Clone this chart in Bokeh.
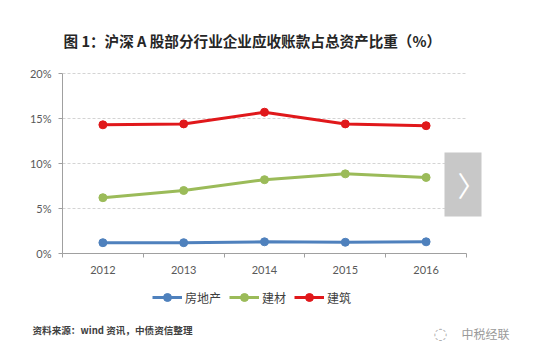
from bokeh.plotting import figure
from bokeh.layouts import column
from bokeh.models import (Range1d, FixedTicker, PrintfTickFormatter, Label, Legend, LegendItem,
                          BoxAnnotation)
from bokeh.embed import file_html
from bokeh.resources import INLINE

years = ["2012", "2013", "2014", "2015", "2016"]
real_estate = [1.2, 1.2, 1.3, 1.25, 1.3]
building_mat = [6.2, 7.0, 8.2, 8.85, 8.45]
construction = [14.3, 14.4, 15.7, 14.4, 14.2]
series_names = ["房地产", "建材", "建筑"]
y_ticks = [0, 5, 10, 15, 20]

title_text = "图 1：沪深 A 股部分行业企业应收账款占总资产比重（%）"
source_text = "资料来源：wind 资讯，中债资信整理"
watermark_text = "中税经联"

# layout constants (pixels)
W = 559
H = 362
MAIN_H = 278
FRAME_LEFT = 62
FRAME_BOTTOM = 253          # y of the x axis from top
PLOT_TOP = 73               # y of the 20% line
CAT_W = 80.8                # pixel width of one category
frame_h = FRAME_BOTTOM
frame_w = W - FRAME_LEFT
y_max = max(y_ticks)
y_end = y_max * frame_h / (FRAME_BOTTOM - PLOT_TOP)
x_end = -0.5 + frame_w / CAT_W

xs = list(range(len(years)))
colors = ["#4f81bd", "#9bbb59", "#e0181b"]

p = figure(width=W, height=MAIN_H, output_backend="svg", toolbar_location=None,
           x_range=Range1d(-0.5, x_end), y_range=Range1d(0, y_end),
           min_border_left=FRAME_LEFT, min_border_right=0, min_border_top=0,
           min_border_bottom=MAIN_H - FRAME_BOTTOM)
p.frame_align = False
p.outline_line_color = None
p.background_fill_color = "white"
p.border_fill_color = "white"

# axes
p.xaxis.bounds = (-0.5, len(years) - 0.5)
p.xaxis.ticker = FixedTicker(ticks=xs, minor_ticks=[i - 0.5 for i in range(len(years) + 1)])
p.xaxis.major_label_overrides = {i: y for i, y in enumerate(years)}
p.xaxis.major_tick_line_color = None
p.xaxis.major_tick_out = 0
p.xaxis.major_tick_in = 0
p.xaxis.minor_tick_line_color = "#a0a0a0"
p.xaxis.minor_tick_out = 4
p.xaxis.minor_tick_in = 0
p.xaxis.axis_line_color = "#a0a0a0"
p.xaxis.major_label_standoff = 8
p.yaxis.bounds = (0, y_max)
p.yaxis.ticker = FixedTicker(ticks=y_ticks)
p.yaxis.formatter = PrintfTickFormatter(format="%d%%")
p.yaxis.axis_line_color = "#a0a0a0"
p.yaxis.major_tick_line_color = "#a0a0a0"
p.yaxis.major_tick_out = 4
p.yaxis.major_tick_in = 0
p.yaxis.minor_tick_line_color = None
p.yaxis.major_label_standoff = 7
for ax in (p.xaxis, p.yaxis):
    ax.major_label_text_font = "Lato"
    ax.major_label_text_font_size = "11px"
    ax.major_label_text_color = "#595959"

p.xgrid.grid_line_color = None
p.ygrid.grid_line_color = "#d4d4d4"
p.ygrid.grid_line_dash = "3 2"
p.ygrid.ticker = FixedTicker(ticks=y_ticks[1:])
p.ygrid.cross_bounds = (-0.5, len(years) - 0.5)

for vals, c in zip([real_estate, building_mat, construction], colors):
    p.line(xs, vals, line_color=c, line_width=3)
    p.scatter(xs, vals, size=8, fill_color=c, line_color=c)

p.add_layout(Label(x=1, y=FRAME_BOTTOM - 40, x_units="screen", y_units="screen", text=title_text,
                   text_font="Noto Sans CJK SC", text_font_style="bold", text_font_size="14.6px",
                   text_color="#262626", text_baseline="middle"))

# grey "next" box
p.add_layout(BoxAnnotation(left=444 - FRAME_LEFT, right=481 - FRAME_LEFT,
                           bottom=FRAME_BOTTOM - 216, top=FRAME_BOTTOM - 152,
                           left_units="screen", right_units="screen",
                           bottom_units="screen", top_units="screen",
                           fill_color="#c8c8c8", fill_alpha=1, line_color=None, level="overlay"))
p.add_layout(Label(x=471 - FRAME_LEFT, y=FRAME_BOTTOM - 184, x_units="screen", y_units="screen",
                   text="〉", text_font="Noto Sans CJK SC", text_font_size="28px",
                   text_color="white", text_align="center", text_baseline="middle", level="overlay"))

# footer: legend, source, watermark
fh = H - MAIN_H
f = figure(width=W, height=fh, output_backend="svg", toolbar_location=None,
           x_axis_type=None, y_axis_type=None, min_border=0,
           x_range=Range1d(0, 1), y_range=Range1d(0, 1))
f.frame_align = False
f.outline_line_color = None
f.xgrid.visible = False
f.ygrid.visible = False

nan = float("nan")
items = []
for name, c in zip(series_names, colors):
    r1 = f.line([nan], [nan], line_color=c, line_width=3)
    r2 = f.scatter([nan], [nan], size=6, fill_color=c, line_color=c)
    items.append(LegendItem(label=name, renderers=[r1, r2]))
legend = Legend(items=items, orientation="horizontal", location=(152, H - 307),
                padding=0, margin=0, spacing=8, glyph_width=30, label_standoff=3,
                border_line_color=None, background_fill_alpha=0,
                label_text_font="Noto Sans CJK SC", label_text_font_size="12px",
                label_text_color="#404040")
f.add_layout(legend, "center")

f.add_layout(Label(x=32, y=H - 329, x_units="screen", y_units="screen", text=source_text,
                   text_font="Noto Sans CJK SC", text_font_size="9.6px", text_font_style="bold",
                   text_color="#404040", text_baseline="middle"))
f.add_layout(Label(x=461, y=H - 333, x_units="screen", y_units="screen", text=watermark_text,
                   text_font="Noto Sans CJK SC", text_font_size="12px",
                   text_color="#9a9a9a", text_baseline="middle"))
f.add_layout(Label(x=440, y=H - 333, x_units="screen", y_units="screen", text="◌",
                   text_font="DejaVu Sans", text_font_size="16px", text_align="center",
                   text_color="#b0b0b0", text_baseline="middle"))

layout = column(p, f, spacing=0)
open("out.html", "w").write(file_html(layout, INLINE))
